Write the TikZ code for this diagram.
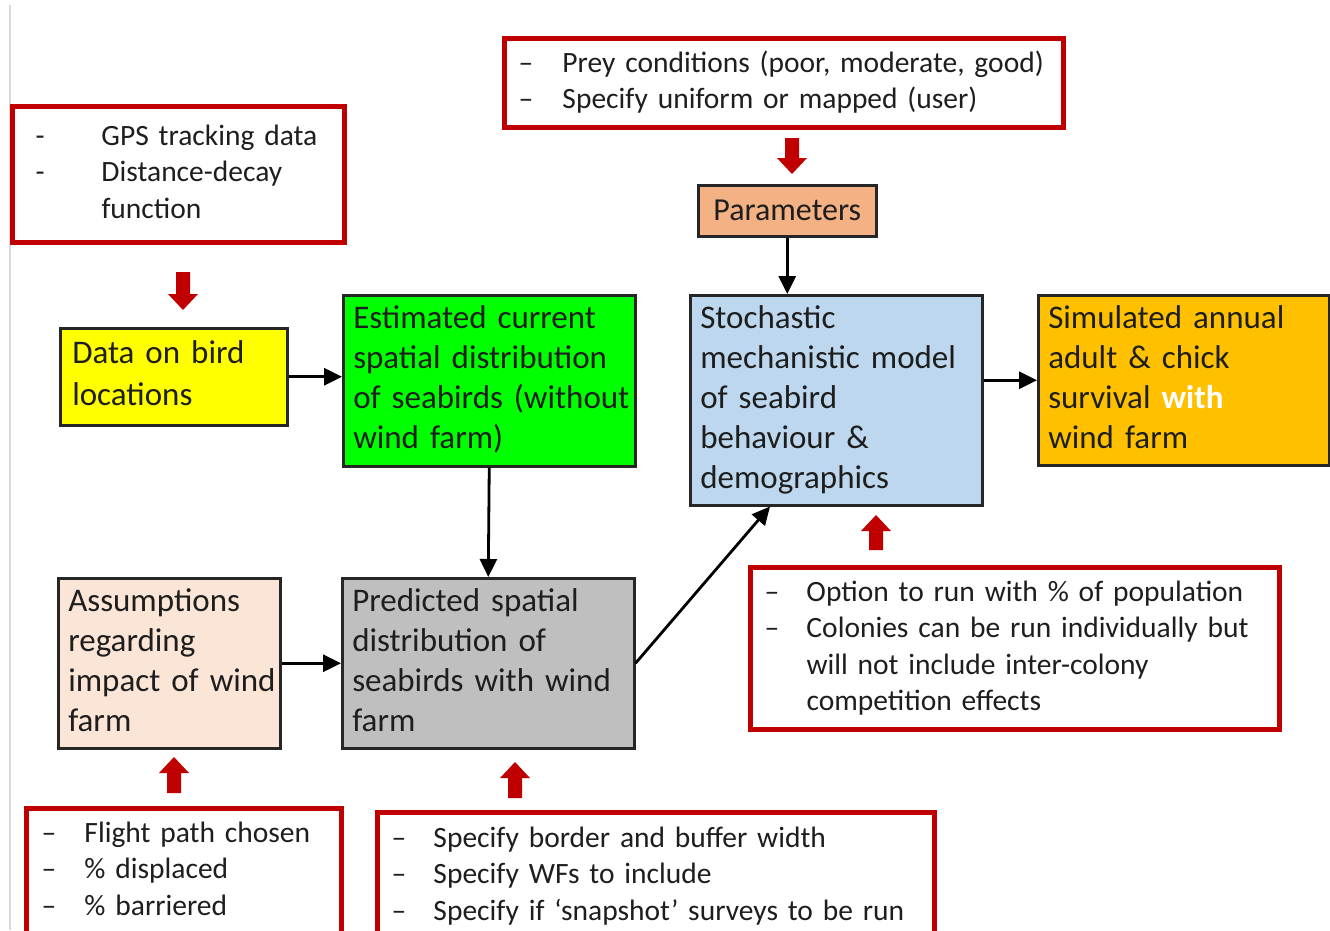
\documentclass[tikz,border=0pt]{standalone}
\usepackage{fontspec}
\setmainfont{Carlito}
\usetikzlibrary{arrows.meta,calc}
\definecolor{boxred}{HTML}{C00000}
\definecolor{txt}{HTML}{1E1E1E}
\definecolor{cyellow}{HTML}{FFFF00}
\definecolor{cgreen}{HTML}{00FF00}
\definecolor{cblue}{HTML}{BDD7EE}
\definecolor{corange}{HTML}{FFC000}
\definecolor{cparam}{HTML}{F4B183}
\definecolor{cassum}{HTML}{FBE5D6}
\definecolor{cgray}{HTML}{BFBFBF}
\definecolor{edge}{HTML}{D9D9D9}
\newcommand{\redup}[3]{\fill[boxred] (#1-7,#2) -- (#1+7,#2) -- (#1+7,#3+16) -- (#1+15,#3+16) -- (#1,#3) -- (#1-15,#3+16) -- (#1-7,#3+16) -- cycle;}
\newcommand{\reddown}[3]{\fill[boxred] (#1-7,#2) -- (#1+7,#2) -- (#1+7,#3-16) -- (#1+15,#3-16) -- (#1,#3) -- (#1-15,#3-16) -- (#1-7,#3-16) -- cycle;}
\tikzset{
  flow/.style={draw=black!85, line width=2.5pt, anchor=north west, align=left,
    inner xsep=10pt, inner ysep=0pt, text=txt, font=\fontsize{33}{40}\selectfont},
  note/.style={draw=boxred, line width=5pt, anchor=north west, align=left,
    inner ysep=0pt, text=txt, font=\fontsize{29.5}{36.5}\selectfont},
  link/.style={line width=2.8pt, draw=black, -{Triangle[length=18pt,width=17pt]}},
}
\begin{document}
\begin{tikzpicture}[x=1pt,y=-1pt]
\useasboundingbox (0,0) rectangle (1330,930);
\fill[white] (0,0) rectangle (1330,930);
\draw[edge, line width=1.5pt] (10,5) -- (10,930);

% flow boxes
\node[flow, fill=cyellow, minimum width=227pt, minimum height=97pt, text width=203pt, inner xsep=12pt] (data) at (59,327)
  {\begin{tabular}{@{}l@{}}Data on bird\\[2pt] locations\end{tabular}};
\node[flow, fill=cgreen, minimum width=292pt, minimum height=171pt, text width=272pt] (green) at (342,294)
  {\begin{tabular}{@{}l@{}}Estimated current\\ spatial distribution\\ of seabirds (without\\ wind farm)\end{tabular}};
\node[flow, fill=cblue, minimum width=292pt, minimum height=210pt, text width=272pt] (stoch) at (689,294)
  {\begin{tabular}{@{}l@{}}Stochastic\\ mechanistic model\\ of seabird\\ behaviour \&\\ demographics\end{tabular}};
\node[flow, fill=corange, minimum width=291pt, minimum height=170pt, text width=271pt] (sim) at (1037,294)
  {\begin{tabular}{@{}l@{}}Simulated annual\\ adult \& chick\\ survival {\color{white}\bfseries with}\\ wind farm\end{tabular}};
\node[flow, fill=cassum, minimum width=222pt, minimum height=170pt, text width=202pt] (assum) at (57,577)
  {\begin{tabular}{@{}l@{}}Assumptions\\ regarding\\ impact of wind\\ farm\end{tabular}};
\node[flow, fill=cgray, minimum width=292pt, minimum height=170pt, text width=272pt] (pred) at (341,577)
  {\begin{tabular}{@{}l@{}}Predicted spatial\\ distribution of\\ seabirds with wind\\ farm\end{tabular}};
\node[flow, fill=cparam, align=center, minimum width=178pt, minimum height=51pt, text width=158pt,
  font=\fontsize{32}{38}\selectfont] (param) at (697,184) {Parameters};

% red note boxes
\node[note, minimum width=332pt, minimum height=136pt, inner xsep=23pt, text width=286pt] (gps) at (10,104)
  {\begin{tabular}{@{}p{66pt}@{}l@{}}-&GPS tracking data\\ -&Distance-decay\\ &function\end{tabular}};
\node[note, minimum width=559pt, minimum height=89pt, inner xsep=14pt, text width=531pt] (prey) at (502,36)
  {\begin{tabular}{@{}p{44pt}@{}l@{}}--&Prey conditions (poor, moderate, good)\\ --&Specify uniform or mapped (user)\end{tabular}};
\node[note, minimum width=529pt, minimum height=162pt, inner xsep=14pt, text width=501pt] (opt) at (748,565)
  {\begin{tabular}{@{}p{42pt}@{}l@{}}--&Option to run with \% of population\\ --&Colonies can be run individually but\\ &will not include inter-colony\\ &competition effects\end{tabular}};
\node[note, minimum width=315pt, minimum height=126pt, inner xsep=15pt, text width=285pt] (flight) at (24,806)
  {\begin{tabular}{@{}p{43pt}@{}l@{}}--&Flight path chosen\\ --&\% displaced\\ --&\% barriered\end{tabular}};
\node[note, minimum width=557pt, minimum height=128pt, inner xsep=14pt, text width=529pt] (spec) at (375,810)
  {\begin{tabular}{@{}p{42pt}@{}l@{}}--&Specify border and buffer width\\ --&Specify WFs to include\\ --&Specify if `snapshot' surveys to be run\end{tabular}};

% red block arrows
\reddown{183}{272}{310}
\reddown{792}{138}{174}
\redup{876}{550}{515}
\redup{174}{793}{757}
\redup{515}{798}{762}

% black connectors
\draw[link] (data.east) -- (green.west |- data.east);
\draw[link] (green.south) -- (pred.north);
\draw[link] (param.south) -- (param.south |- stoch.north);
\draw[link] (stoch.east |- sim.west) -- (sim.west);
\draw[link] (assum.east) -- (pred.west |- assum.east);
\draw[link] (pred.east) -- ($(stoch.south west)+(81,0)$);
\end{tikzpicture}
\end{document}
